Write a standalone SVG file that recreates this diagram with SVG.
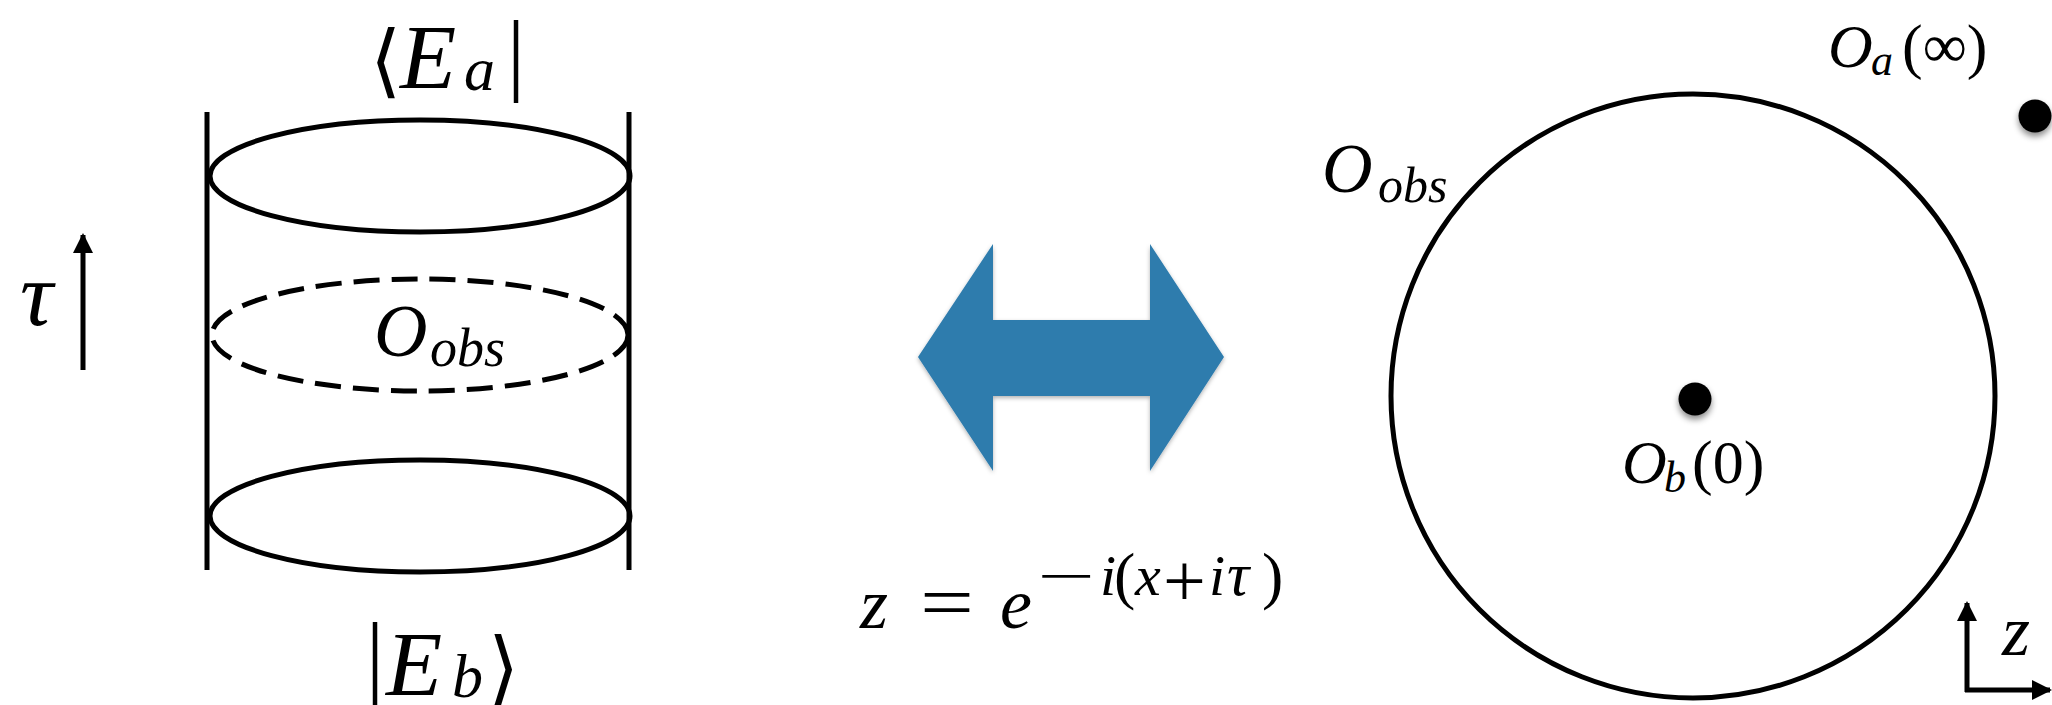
<svg xmlns="http://www.w3.org/2000/svg" width="2052" height="705" viewBox="0 0 2052 705">
<style>
.ln{fill:none;stroke:#000;stroke-width:5}
.dash{fill:none;stroke:#000;stroke-width:5;stroke-dasharray:26 12}
.m{font-family:"Liberation Serif","DejaVu Serif",serif;font-style:italic;fill:#000}
.r{font-family:"Liberation Serif","DejaVu Serif",serif;font-style:normal;fill:#000}
.br{font-family:"DejaVu Serif",serif;font-style:normal;fill:#000}
</style>
<defs>
<marker id="ah" viewBox="0 0 10 10" refX="9" refY="5" markerWidth="4" markerHeight="4" orient="auto" markerUnits="strokeWidth"><path d="M0,0 L10,5 L0,10 z" fill="#000"/></marker>
<filter id="sh" x="-50%" y="-50%" width="200%" height="220%"><feDropShadow dx="0" dy="4" stdDeviation="3" flood-color="#000" flood-opacity="0.45"/></filter>
<filter id="ash" x="-10%" y="-10%" width="120%" height="130%"><feDropShadow dx="0" dy="2" stdDeviation="2" flood-color="#000" flood-opacity="0.3"/></filter>
</defs>

<g id="cylinder">
<line class="ln" x1="207" y1="112" x2="207" y2="570"/>
<line class="ln" x1="629" y1="112" x2="629" y2="570"/>
<ellipse class="ln" cx="420" cy="176" rx="210" ry="56"/>
<ellipse class="dash" cx="420" cy="335" rx="208" ry="56"/>
<ellipse class="ln" cx="420" cy="516" rx="210" ry="56"/>
</g>

<g id="label-Ea">
<text class="br" x="370" y="88" font-size="80">⟨</text>
<text class="m" x="400" y="88" font-size="92">E</text>
<text class="m" x="464" y="90" font-size="62">a</text>
<text class="r" x="507" y="84" font-size="90">|</text>
</g>

<g id="label-Eb">
<text class="r" x="366" y="686" font-size="90">|</text>
<text class="m" x="386" y="695" font-size="92">E</text>
<text class="m" x="452" y="697" font-size="62">b</text>
<text class="br" x="488" y="695" font-size="80">⟩</text>
</g>

<g id="label-Oobs-cyl">
<text class="m" x="374" y="356" font-size="74">O</text>
<text class="m" x="430" y="366" font-size="54">obs</text>
</g>

<g id="tau-axis">
<text class="m" x="20" y="325" font-size="92">τ</text>
<line class="ln" x1="83" y1="370" x2="83" y2="235" marker-end="url(#ah)"/>
</g>

<g id="map-arrow">
<polygon fill="#2e7bad" filter="url(#ash)" points="918,357 993,244 993,320 1150,320 1150,244 1224,357 1150,471 1150,396 993,396 993,471"/>
</g>

<g id="formula">
<text class="m" x="860" y="628" font-size="72">z</text>
<text class="r" x="920" y="628" font-size="76" textLength="54" lengthAdjust="spacingAndGlyphs">=</text>
<text class="m" x="1000" y="628" font-size="72">e</text>
<text class="r" x="1037" y="595" font-size="56" textLength="58" lengthAdjust="spacingAndGlyphs">−</text>
<text class="m" x="1100" y="595" font-size="58">i</text>
<text class="r" x="1114" y="597" font-size="64">(</text>
<text class="m" x="1135" y="595" font-size="58">x</text>
<text class="r" x="1163" y="606" font-size="76">+</text>
<text class="m" x="1209" y="595" font-size="58">i</text>
<text class="m" x="1227" y="595" font-size="62">τ</text>
<text class="r" x="1262" y="597" font-size="64">)</text>
</g>

<g id="z-plane">
<circle class="ln" cx="1693" cy="396" r="302"/>
<text class="m" x="1322" y="192" font-size="70">O</text>
<text class="m" x="1378" y="202" font-size="50">obs</text>
</g>

<g id="point-b">
<circle cx="1695" cy="399" r="16.5" fill="#000" filter="url(#sh)"/>
<text class="m" x="1622" y="483" font-size="62">O</text>
<text class="m" x="1664" y="492" font-size="44">b</text>
<text class="r" x="1692" y="483" font-size="62">(0)</text>
</g>

<g id="point-a">
<circle cx="2035" cy="116" r="16.5" fill="#000" filter="url(#sh)"/>
<text class="m" x="1828" y="67" font-size="62">O</text>
<text class="m" x="1871" y="75" font-size="44">a</text>
<text class="r" x="1902" y="67" font-size="62">(∞)</text>
</g>

<g id="connectors">
<line class="ln" x1="1967" y1="692" x2="1967" y2="603" stroke-width="4" marker-end="url(#ah)"/>
<line class="ln" x1="1965" y1="690" x2="2050" y2="690" stroke-width="4" marker-end="url(#ah)"/>
<text class="m" x="2002" y="655" font-size="72">z</text>
</g>
</svg>
